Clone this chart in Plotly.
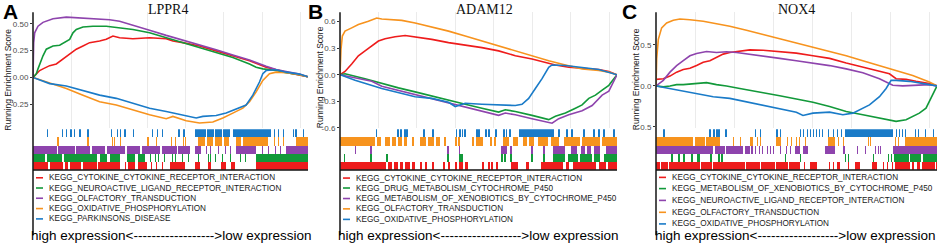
import plotly.graph_objects as go

W, H = 941, 247
N_GENES = 18000

# ---------------- Panel A : LPPR4 ----------------
A_TITLE = "LPPR4"
A_NAMES = ["KEGG_CYTOKINE_CYTOKINE_RECEPTOR_INTERACTION",
           "KEGG_NEUROACTIVE_LIGAND_RECEPTOR_INTERACTION",
           "KEGG_OLFACTORY_TRANSDUCTION",
           "KEGG_OXIDATIVE_PHOSPHORYLATION",
           "KEGG_PARKINSONS_DISEASE"]
A_YTICKS = [-0.25, 0.0, 0.25, 0.5]
A_YTICKTEXT = ["-0.25", "0.00", "0.25", "0.50"]

A_CYT_rank = [0, 218, 436, 654, 1090, 1526, 1962, 2398, 2834, 3270, 3706, 4360, 4796, 5232, 5668, 6540, 7630, 8720, 9156, 9810, 10900, 11990, 13080, 14170, 15260, 16132, 17004, 17985]
A_CYT_es = [0, 0.034, 0.064, 0.080, 0.110, 0.126, 0.172, 0.218, 0.264, 0.294, 0.325, 0.340, 0.356, 0.387, 0.371, 0.362, 0.371, 0.362, 0.340, 0.325, 0.294, 0.248, 0.202, 0.156, 0.095, 0.064, 0.034, 0.006]
A_NEU_rank = [0, 218, 327, 436, 654, 872, 1308, 1744, 2071, 2398, 2616, 2834, 3270, 3924, 4796, 5450, 6540, 7630, 8720, 9810, 10900, 11990, 13080, 14170, 14606, 15042, 15478, 15914, 16568, 17440, 17985]
A_NEU_es = [0, 0.034, 0.080, 0.126, 0.202, 0.264, 0.294, 0.301, 0.331, 0.356, 0.417, 0.448, 0.472, 0.479, 0.479, 0.469, 0.448, 0.417, 0.371, 0.325, 0.279, 0.233, 0.187, 0.126, 0.095, 0.080, 0.074, 0.064, 0.043, 0.025, 0.006]
A_OLF_rank = [0, 44, 109, 327, 654, 1308, 2180, 3270, 4360, 5014, 5668, 6540, 7630, 8720, 9810, 10900, 11990, 13080, 14170, 15260, 15914, 16568, 17440, 17985]
A_OLF_es = [0, 0.325, 0.417, 0.479, 0.515, 0.549, 0.564, 0.555, 0.552, 0.540, 0.525, 0.485, 0.442, 0.393, 0.350, 0.301, 0.258, 0.209, 0.163, 0.104, 0.074, 0.055, 0.031, 0.006]
A_OXP_rank = [0, 654, 2180, 3270, 4360, 5450, 6540, 7630, 8720, 9156, 10028, 10900, 11772, 12426, 13080, 13734, 14170, 14606, 15042, 15478, 15914, 16568, 17440, 17985]
A_OXP_es = [0, -0.030, -0.104, -0.166, -0.227, -0.258, -0.304, -0.350, -0.387, -0.365, -0.405, -0.426, -0.417, -0.380, -0.334, -0.288, -0.227, -0.135, -0.028, 0.034, 0.049, 0.043, 0.025, 0.006]
A_PAR_rank = [0, 1090, 2180, 3270, 4360, 5450, 6540, 7630, 8720, 9810, 10682, 11118, 11990, 12644, 13516, 13952, 14388, 14824, 15042, 15260, 15914, 16568, 17440, 17985]
A_PAR_es = [0, -0.058, -0.080, -0.120, -0.166, -0.196, -0.242, -0.288, -0.319, -0.356, -0.380, -0.365, -0.356, -0.334, -0.288, -0.258, -0.166, -0.043, 0.034, 0.064, 0.071, 0.049, 0.031, 0.006]

A_CYT_blocks = [[0, 981], [1112, 1962], [2093, 2289], [2420, 3139], [3270, 4186], [4251, 5690], [6213, 6671], [6867, 7456], [8960, 9941], [10595, 10922], [11445, 11641], [12295, 12622], [12949, 13211], [14584, 17985]]
A_CYT_hits = [6017, 7717, 8044, 8437]
A_NEU_blocks = [[0, 785], [916, 1897], [2027, 4186], [4382, 4840], [5036, 5690], [6148, 6671], [6867, 7325], [14584, 17985]]
A_NEU_hits = [7652, 7979, 8175, 8567, 9091, 9287, 9745, 10137, 10791, 11445, 11576, 11903, 12361, 12884, 13538, 13865]
A_OLF_blocks = [[0, 1570], [1635, 2747], [2812, 3728], [3859, 4709], [4840, 6017], [6148, 6998], [7129, 8306], [8437, 9418], [9483, 10268], [10595, 10987], [13276, 14584], [16546, 17985]]
A_OLF_hits = [11314, 11576, 12099, 12557, 12884, 14977, 15369, 15827, 16154]
A_OXP_blocks = [[10791, 11249], [11380, 11772], [11903, 12361], [12491, 12818], [13276, 13603], [13734, 15369], [17200, 17985]]
A_OXP_hits = [1589, 3551, 5147, 5297, 5690, 7475, 8044, 9006, 9267, 9810, 9941, 15761, 16023, 16350]
A_PAR_blocks = [[10660, 11314], [11380, 11837], [11903, 12361], [12426, 12884], [13080, 15565]]
A_PAR_hits = [896, 1877, 2139, 2453, 2681, 3028, 3551, 5101, 5474, 5690, 5984, 6520, 7763, 8090, 8417, 9503, 9830, 10575, 15761, 16023, 16350, 17004, 17180, 17658]

# ---------------- Panel B : ADAM12 ----------------
B_TITLE = "ADAM12"
B_NAMES = ["KEGG_CYTOKINE_CYTOKINE_RECEPTOR_INTERACTION",
           "KEGG_DRUG_METABOLISM_CYTOCHROME_P450",
           "KEGG_METABOLISM_OF_XENOBIOTICS_BY_CYTOCHROME_P450",
           "KEGG_OLFACTORY_TRANSDUCTION",
           "KEGG_OXIDATIVE_PHOSPHORYLATION"]
B_YTICKS = [-0.6, -0.3, 0.0, 0.3, 0.6]
B_YTICKTEXT = ["-0.6", "-0.3", "0.0", "0.3", "0.6"]

B_CYT_rank = [0, 326, 760, 1194, 1628, 2062, 2496, 2930, 3581, 4232, 4883, 5968, 7053, 8138, 9223, 10308, 11393, 12478, 13563, 13997, 14865, 15733, 16818, 17469, 18000]
B_CYT_es = [0, 0.037, 0.122, 0.215, 0.270, 0.326, 0.381, 0.407, 0.430, 0.444, 0.430, 0.400, 0.363, 0.337, 0.307, 0.270, 0.215, 0.178, 0.133, 0.111, 0.085, 0.074, 0.059, 0.037, 0.0]
B_DRU_rank = [0, 326, 1628, 2713, 3798, 4883, 5968, 7053, 8138, 9223, 10308, 10742, 11393, 12478, 13563, 13997, 14648, 15299, 15733, 16167, 16601, 17035, 17469, 18000]
B_DRU_es = [0, 0.011, -0.044, -0.100, -0.148, -0.193, -0.237, -0.285, -0.333, -0.378, -0.422, -0.396, -0.415, -0.459, -0.507, -0.470, -0.433, -0.378, -0.341, -0.267, -0.230, -0.174, -0.119, 0.0]
B_XEN_rank = [0, 977, 2062, 2713, 3798, 4883, 5968, 7053, 8138, 9223, 10308, 10742, 11393, 12478, 13780, 14214, 14865, 15733, 16384, 17035, 17469, 18000]
B_XEN_es = [0, -0.037, -0.074, -0.130, -0.178, -0.222, -0.267, -0.315, -0.363, -0.415, -0.459, -0.433, -0.452, -0.496, -0.548, -0.496, -0.452, -0.407, -0.348, -0.230, -0.185, 0.0]
B_OLF_rank = [0, 65, 152, 326, 760, 1194, 1845, 2387, 2713, 3364, 4015, 4883, 5968, 7053, 8138, 9223, 10308, 11393, 12478, 13563, 14648, 15733, 16818, 17469, 18000]
B_OLF_es = [0, 0.289, 0.437, 0.493, 0.530, 0.567, 0.604, 0.641, 0.630, 0.622, 0.615, 0.585, 0.541, 0.493, 0.437, 0.381, 0.326, 0.270, 0.215, 0.159, 0.111, 0.067, 0.048, 0.030, 0.0]
B_OXP_rank = [0, 977, 2713, 3798, 4883, 5968, 7053, 7487, 8138, 9223, 10308, 11393, 11827, 12261, 12695, 13129, 13563, 13780, 14648, 15733, 16818, 18000]
B_OXP_es = [0, -0.063, -0.156, -0.200, -0.248, -0.267, -0.311, -0.359, -0.322, -0.333, -0.341, -0.348, -0.333, -0.267, -0.156, -0.044, 0.085, 0.111, 0.104, 0.085, 0.059, 0.0]

B_CYT_blocks = [[0, 2990], [3120, 3380], [3510, 3770], [3900, 4095], [4225, 4550], [4680, 4875], [7475, 7605], [7735, 7995], [8125, 8320], [11115, 11570], [12090, 12285], [13065, 14495], [14690, 14885], [15145, 16640], [16835, 17290], [17420, 18000]]
B_CYT_hits = [5200, 5525, 5980, 6695, 7020, 9230, 9620, 9815, 10140]
B_DRU_blocks = [[13845, 14625], [14820, 15470], [15600, 16380], [16510, 16900], [17160, 18000]]
B_DRU_hits = [228, 1970, 3010, 6955, 7735, 7865, 10465, 10660, 11050, 12415, 13195]
B_XEN_blocks = [[13845, 14625], [15015, 15405], [15665, 15925], [16055, 16315], [16510, 16900], [17290, 18000]]
B_XEN_hits = [943, 1950, 6955, 7716, 10465, 10595, 10725, 11050, 12415, 13195]
B_OLF_blocks = [[0, 2275], [2405, 2665], [2925, 3250], [3380, 3640], [3770, 4030], [4160, 4355], [4680, 4810], [5200, 5590], [5720, 6110], [6240, 6500], [6760, 6890], [8840, 9295], [10595, 10985], [11245, 11570], [11895, 12155], [12285, 12610], [12870, 13520], [13715, 14235], [14560, 15600], [15730, 16900], [17030, 18000]]
B_OLF_hits = [7475, 7670, 8580, 9750, 10010]
B_OXP_blocks = [[11635, 13910]]
B_OXP_hits = [2308, 3705, 3900, 4160, 4290, 5395, 5980, 7508, 7735, 7898, 8060, 8840, 8970, 9425, 9620, 10075, 10595, 10758, 10985, 14170, 14690, 15015, 15795, 16445, 16770, 17095, 17745]

# ---------------- Panel C : NOX4 ----------------
C_TITLE = "NOX4"
C_NAMES = ["KEGG_CYTOKINE_CYTOKINE_RECEPTOR_INTERACTION",
           "KEGG_METABOLISM_OF_XENOBIOTICS_BY_CYTOCHROME_P450",
           "KEGG_NEUROACTIVE_LIGAND_RECEPTOR_INTERACTION",
           "KEGG_OLFACTORY_TRANSDUCTION",
           "KEGG_OXIDATIVE_PHOSPHORYLATION"]
C_YTICKS = [-0.5, 0.0, 0.5]
C_YTICKTEXT = ["-0.5", "0.0", "0.5"]

C_CYT_rank = [0, 469, 895, 1321, 1747, 2173, 2599, 3025, 3451, 3877, 4303, 4729, 5368, 6007, 6859, 7924, 8989, 10054, 11119, 12184, 13249, 14314, 14953, 15379, 16018, 16657, 17509, 18000]
C_CYT_es = [0.08, 0.088, 0.12, 0.168, 0.2, 0.216, 0.248, 0.288, 0.308, 0.348, 0.388, 0.408, 0.428, 0.44, 0.436, 0.416, 0.4, 0.368, 0.336, 0.28, 0.228, 0.176, 0.148, 0.088, 0.08, 0.056, 0.028, 0.0]
C_XEN_rank = [0, 469, 895, 1321, 1747, 2599, 3238, 3877, 4516, 5368, 6859, 7924, 8989, 10054, 11119, 12184, 13249, 14314, 15379, 16018, 16444, 16870, 17296, 17722, 18000]
C_XEN_es = [0, -0.012, 0, 0.016, 0.016, 0.032, 0.04, 0.016, 0, -0.032, -0.08, -0.12, -0.16, -0.2, -0.252, -0.312, -0.352, -0.392, -0.432, -0.412, -0.372, -0.332, -0.272, -0.112, 0.0]
C_NEU_rank = [0, 469, 895, 1321, 1747, 2173, 2599, 3238, 3877, 4516, 5155, 6007, 6859, 7924, 8989, 10054, 11119, 12184, 13249, 14314, 15166, 15805, 16657, 17509, 18000]
C_NEU_es = [0, 0.068, 0.168, 0.248, 0.308, 0.368, 0.396, 0.42, 0.408, 0.416, 0.408, 0.388, 0.368, 0.336, 0.308, 0.28, 0.248, 0.208, 0.16, 0.088, 0.008, 0, 0.008, 0.016, 0.0]
C_OLF_rank = [0, 43, 149, 362, 682, 1108, 1534, 2173, 3025, 3877, 4729, 5794, 6859, 7924, 8989, 10054, 11119, 12184, 13249, 14314, 15379, 16444, 17509, 18000]
C_OLF_es = [0, 0.328, 0.568, 0.708, 0.768, 0.80, 0.816, 0.808, 0.788, 0.76, 0.728, 0.68, 0.628, 0.576, 0.528, 0.476, 0.42, 0.368, 0.308, 0.248, 0.188, 0.128, 0.048, 0.0]
C_OXP_rank = [0, 1534, 2599, 3664, 4729, 5794, 6859, 7924, 8989, 9415, 10054, 11119, 11971, 12610, 13249, 13675, 14314, 14740, 15060, 15379, 16231, 17083, 18000]
C_OXP_es = [0, -0.052, -0.092, -0.132, -0.152, -0.192, -0.24, -0.272, -0.32, -0.36, -0.332, -0.32, -0.352, -0.332, -0.272, -0.232, -0.132, -0.032, 0.068, 0.068, 0.056, 0.028, 0.0]

C_CYT_blocks = [[0, 256], [320, 768], [832, 2816], [2880, 3584], [3648, 5696], [5760, 6656], [6720, 7616], [7680, 8448], [8512, 9216], [9856, 10304], [11584, 11776], [12736, 13056], [13824, 14144], [15296, 16256], [16384, 16512], [16704, 16896], [17024, 17856]]
C_CYT_hits = [9472, 11072, 11328, 12288, 14528, 14784, 15104, 17920]
C_XEN_blocks = [[15232, 16200], [16300, 17000], [17100, 18000]]
C_XEN_hits = [960, 1408, 1728, 2240, 2624, 2720, 3456, 3968, 4160, 8256, 9216, 12096, 12288, 13888, 14848, 15040]
C_NEU_blocks = [[0, 3648], [3776, 4416], [4480, 5568], [5696, 6016], [6080, 6208], [8896, 9216], [9408, 9728], [10816, 11456], [11968, 12096], [15168, 18000]]
C_NEU_hits = [6336, 6592, 6784, 7104, 7296, 7488, 7936, 8320, 8576, 12864, 13376, 14016, 14208, 14336]
C_OLF_blocks = [[0, 2368], [2496, 3136], [3200, 4096], [6016, 6208], [7680, 8000], [11008, 11456], [15936, 18000]]
C_OLF_hits = [4928, 5376, 6464, 6656, 8384, 8640, 8960, 9152, 9536, 11648, 11968, 13568, 13696, 15296, 15488]
C_OXP_blocks = [[12096, 15168]]
C_OXP_hits = [448, 3392, 3648, 3840, 4000, 4416, 6336, 6656, 7712, 7936, 9216, 9408, 9664, 9856, 10048, 10240, 10432, 10624, 11008, 11328, 11584, 11840, 15360, 15552, 15744, 15936, 16576, 16768, 17216, 17728]

X_LABEL = "high expression<" + "-" * 18 + ">low expression"
Y_LABEL = "Running Enrichment Score"

# ---------------- styling / geometry ----------------
COLORS = ["#EE1C1C", "#12993A", "#8E44AD", "#F7931E", "#1A7BC8"]
SANS = "Liberation Sans, Arial, sans-serif"
SERIF = "Liberation Serif, Times New Roman, serif"

panels = [
    dict(letter="A", title=A_TITLE, names=A_NAMES, yticks=A_YTICKS, yticktext=A_YTICKTEXT,
         ranks=[A_CYT_rank, A_NEU_rank, A_OLF_rank, A_OXP_rank, A_PAR_rank],
         es=[A_CYT_es, A_NEU_es, A_OLF_es, A_OXP_es, A_PAR_es],
         blocks=[A_CYT_blocks, A_NEU_blocks, A_OLF_blocks, A_OXP_blocks, A_PAR_blocks],
         hits=[A_CYT_hits, A_NEU_hits, A_OLF_hits, A_OXP_hits, A_PAR_hits],
         x0=33, x1=308, yr=[-0.477, 0.609], letter_x=10, ytitle_x=8, ytitle_y=81,
         title_x=167.5, bottom_x=171, rows=[180.7, 191.1, 201.5, 212, 222.5]),
    dict(letter="B", title=B_TITLE, names=B_NAMES, yticks=B_YTICKS, yticktext=B_YTICKTEXT,
         ranks=[B_CYT_rank, B_DRU_rank, B_XEN_rank, B_OLF_rank, B_OXP_rank],
         es=[B_CYT_es, B_DRU_es, B_XEN_es, B_OLF_es, B_OXP_es],
         blocks=[B_CYT_blocks, B_DRU_blocks, B_XEN_blocks, B_OLF_blocks, B_OXP_blocks],
         hits=[B_CYT_hits, B_DRU_hits, B_XEN_hits, B_OLF_hits, B_OXP_hits],
         x0=340, x1=617, yr=[-0.606, 0.706], letter_x=315.5, ytitle_x=319.5, ytitle_y=79,
         title_x=484, bottom_x=478, rows=[181, 191.1, 201.8, 212.3, 223]),
    dict(letter="C", title=C_TITLE, names=C_NAMES, yticks=C_YTICKS, yticktext=C_YTICKTEXT,
         ranks=[C_CYT_rank, C_XEN_rank, C_NEU_rank, C_OLF_rank, C_OXP_rank],
         es=[C_CYT_es, C_XEN_es, C_NEU_es, C_OLF_es, C_OXP_es],
         blocks=[C_CYT_blocks, C_XEN_blocks, C_NEU_blocks, C_OLF_blocks, C_OXP_blocks],
         hits=[C_CYT_hits, C_XEN_hits, C_NEU_hits, C_OLF_hits, C_OXP_hits],
         x0=656, x1=937, yr=[-0.518, 0.898], letter_x=629.5, ytitle_x=636, ytitle_y=80.5,
         title_x=796, bottom_x=795, rows=[180.3, 191.7, 203.7, 215.8, 227.6]),
]


def px(x):
    return x / W


def py(y):
    return 1 - y / H


HIT_W = 100
fig = go.Figure()
layout = dict(width=W, height=H, margin=dict(l=0, r=0, t=0, b=0),
              paper_bgcolor="white", plot_bgcolor="rgba(0,0,0,0)",
              showlegend=False, barmode="overlay", bargap=0)
shapes, annotations = [], []

for i, p in enumerate(panels):
    kc, kr = 2 * i + 1, 2 * i + 2
    xc, yc = f"x{kc}", f"y{kc}"
    xr, yr = f"x{kr}", f"y{kr}"
    dom_x = [px(p["x0"]), px(p["x1"])]
    layout[f"xaxis{kc}"] = dict(domain=dom_x, range=[0, N_GENES], showticklabels=False,
                                ticks="", showgrid=True, gridcolor="#EBEBEB", gridwidth=1,
                                dtick=2500, tick0=0, zeroline=False, showline=False,
                                anchor=yc)
    layout[f"yaxis{kc}"] = dict(domain=[py(130.5), py(12.5)], range=p["yr"],
                                tickmode="array", tickvals=p["yticks"], ticktext=p["yticktext"],
                                showgrid=False, zeroline=False,
                                showline=False, ticks="outside", ticklen=2, tickcolor="#333",
                                tickfont=dict(family=SANS, size=8, color="#4D4D4D"),
                                anchor=xc)
    layout[f"xaxis{kr}"] = dict(domain=dom_x, range=[0, N_GENES], visible=False, anchor=yr)
    layout[f"yaxis{kr}"] = dict(domain=[py(172.5), py(131.5)], range=[0, 5], visible=False, anchor=xr)

    for j in range(5):
        c = COLORS[j]
        fig.add_trace(go.Scatter(x=p["ranks"][j], y=p["es"][j], mode="lines",
                                 line=dict(color=c, width=1.6), xaxis=xc, yaxis=yc,
                                 hoverinfo="skip"))
        starts = [b[0] for b in p["blocks"][j]] + list(p["hits"][j])
        widths = [b[1] - b[0] for b in p["blocks"][j]] + [HIT_W] * len(p["hits"][j])
        fig.add_trace(go.Bar(orientation="h", base=starts, x=widths, y=[j + 0.5] * len(starts),
                             width=1, marker=dict(color=c, line=dict(width=0)),
                             xaxis=xr, yaxis=yr, hoverinfo="skip"))
        # legend entry
        ry = p["rows"][j]
        shapes.append(dict(type="line", xref="paper", yref="paper",
                           x0=px(p["x0"] + 3), x1=px(p["x0"] + 10), y0=py(ry), y1=py(ry),
                           line=dict(color=c, width=1.6)))
        annotations.append(dict(text=p["names"][j], xref="paper", yref="paper",
                                x=px(p["x0"] + 14), y=py(ry), xanchor="left", yanchor="middle",
                                showarrow=False, font=dict(family=SANS, size=8.2, color="#1a1a1a")))

    # left axis line through whole panel, rug baseline
    shapes.append(dict(type="line", xref="paper", yref="paper", x0=px(p["x0"]), x1=px(p["x0"]),
                       y0=py(12.5), y1=py(239), line=dict(color="#222", width=1.6)))
    shapes.append(dict(type="line", xref="paper", yref="paper", x0=px(p["x0"]), x1=px(p["x1"]),
                       y0=py(172.8), y1=py(172.8), line=dict(color="#111", width=1.6)))

    annotations.append(dict(text=p["title"], xref="paper", yref="paper", x=px(p["title_x"]),
                            y=py(9.5), xanchor="center", yanchor="middle", showarrow=False,
                            font=dict(family=SERIF, size=14, color="#111")))
    annotations.append(dict(text="<b>" + p["letter"] + "</b>", xref="paper", yref="paper",
                            x=px(p["letter_x"]), y=py(11.5), xanchor="center", yanchor="middle",
                            showarrow=False, font=dict(family=SANS, size=21, color="#000")))
    annotations.append(dict(text=Y_LABEL, xref="paper", yref="paper", x=px(p["ytitle_x"]),
                            y=py(p["ytitle_y"]), xanchor="center", yanchor="middle", textangle=-90,
                            showarrow=False, font=dict(family=SANS, size=8.5, color="#222")))
    annotations.append(dict(text=X_LABEL, xref="paper", yref="paper", x=px(p["bottom_x"]),
                            y=py(239), xanchor="center", yanchor="middle", showarrow=False,
                            font=dict(family=SANS, size=13.5, color="#000")))

layout["shapes"] = shapes
layout["annotations"] = annotations
fig.update_layout(**layout)
fig.write_html("out.html", config={"displayModeBar": False, "staticPlot": True},
               post_script="document.body.style.margin='0';document.body.style.padding='0';"
                           "document.body.style.overflow='hidden';")
